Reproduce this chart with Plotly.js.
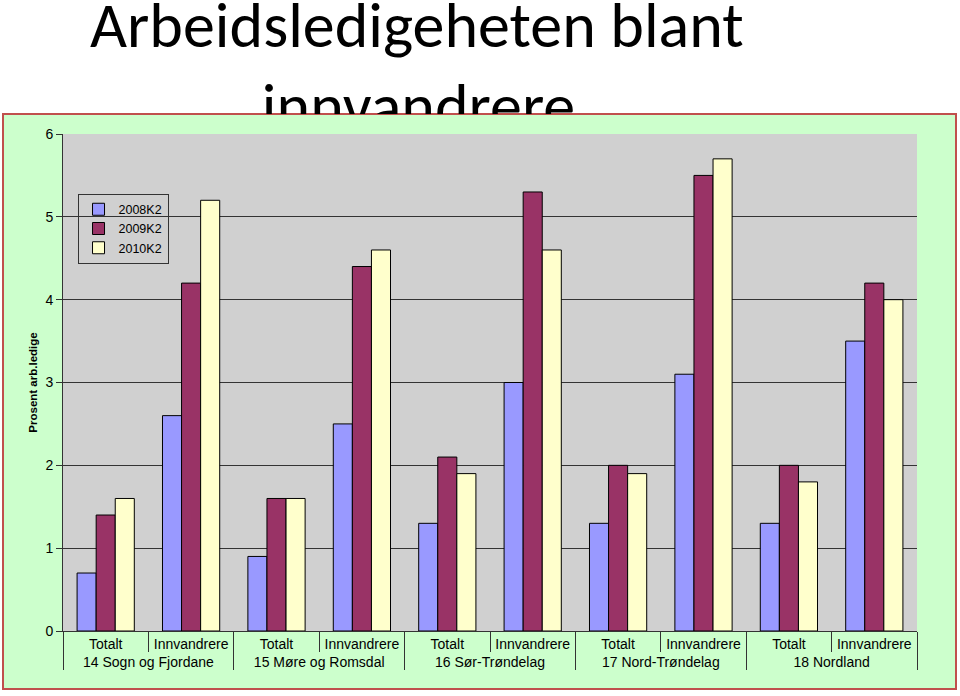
<!DOCTYPE html>
<html><head><meta charset="utf-8">
<script src="https://cdn.plot.ly/plotly-3.0.1.min.js"></script>
<style>
html,body{margin:0;padding:0;background:#fff;}
#wrap{position:relative;width:960px;height:696px;}
#chart{position:absolute;left:0;top:0;width:960px;height:696px;}
#title{position:absolute;left:0;top:0;width:960px;height:114px;overflow:hidden;z-index:5;pointer-events:none;
 font-family:Carlito,Lato,"Open Sans",sans-serif;font-size:64px;line-height:64px;color:#000;}
#title .l1{position:absolute;left:90px;top:-7px;white-space:nowrap;}
#title .l2{position:absolute;left:0;width:837px;text-align:center;top:74px;white-space:nowrap;}
</style></head>
<body><div id="wrap">
<div id="title"><div class="l1">Arbeidsledigeheten blant</div><div class="l2">innvandrere</div></div>
<div id="chart"></div></div>
<script>
const regions = ["14 Sogn og Fjordane","15 Møre og Romsdal","16 Sør-Trøndelag","17 Nord-Trøndelag","18 Nordland"];
const groups = ["Totalt","Innvandrere"];
const seriesNames = ["2008K2","2009K2","2010K2"];
const v2008 = [0.7, 2.6, 0.9, 2.5, 1.3, 3.0, 1.3, 3.1, 1.3, 3.5];
const v2009 = [1.4, 4.2, 1.6, 4.4, 2.1, 5.3, 2.0, 5.5, 2.0, 4.2];
const v2010 = [1.6, 5.2, 1.6, 4.6, 1.9, 4.6, 1.9, 5.7, 1.8, 4.0];
const colors = ["#9999ff","#993366","#ffffcc"];

const outer = [], inner = [];
regions.forEach(r => groups.forEach(g => { outer.push(r); inner.push(g); }));
const vals = [v2008, v2009, v2010];
const traces = vals.map((v,i) => ({
  type:"bar", name:seriesNames[i], x:[outer, inner], y:v,
  marker:{color:colors[i], line:{color:"#000", width:1}}
}));

const L = 63, R = 917, T = 134, B = 631;
const layout = {
  width:960, height:696,
  margin:{l:L, r:960-R, t:T, b:696-B, pad:0},
  paper_bgcolor:"rgba(0,0,0,0)", plot_bgcolor:"rgba(0,0,0,0)",
  barmode:"group", bargap:0.33, bargroupgap:0,
  font:{family:"Liberation Sans, Arial, sans-serif", size:14, color:"#000"},
  showlegend:true,
  legend:{x:0.017, y:0.88, xanchor:"left", yanchor:"top", bgcolor:"rgba(0,0,0,0)",
          bordercolor:"#333", borderwidth:1, font:{size:12.5}, tracegroupgap:0, itemwidth:30},
  xaxis:{type:"multicategory", showline:true, linecolor:"#333", linewidth:1,
         ticks:"outside", tickson:"boundaries", ticklen:20, tickcolor:"#333", tickangle:0,
         showdividers:true, dividercolor:"#333", dividerwidth:1,
         showgrid:false, tickfont:{size:14}},
  yaxis:{range:[0,6], dtick:1, showline:true, linecolor:"#333", linewidth:1,
         ticks:"outside", ticklen:6, tickcolor:"#333", showgrid:true, gridcolor:"#333", gridwidth:1,
         zeroline:false, tickfont:{size:14},
         title:{text:"Prosent arb.ledige", font:{size:11.5, weight:"bold"}, standoff:5}},
  shapes:[
    {type:"rect", xref:"paper", yref:"paper", layer:"below",
     x0:(3-L)/(R-L), x1:(956-L)/(R-L), y0:(B-689)/(B-T), y1:(B-114)/(B-T),
     fillcolor:"#ccffcc", line:{color:"#c0504d", width:2}},
    {type:"rect", xref:"paper", yref:"paper", layer:"below",
     x0:0, x1:1, y0:0, y1:1, fillcolor:"#d0d0d0", line:{width:0}}
  ]
};
Plotly.newPlot("chart", traces, layout, {displayModeBar:false, staticPlot:true});
</script></body></html>
